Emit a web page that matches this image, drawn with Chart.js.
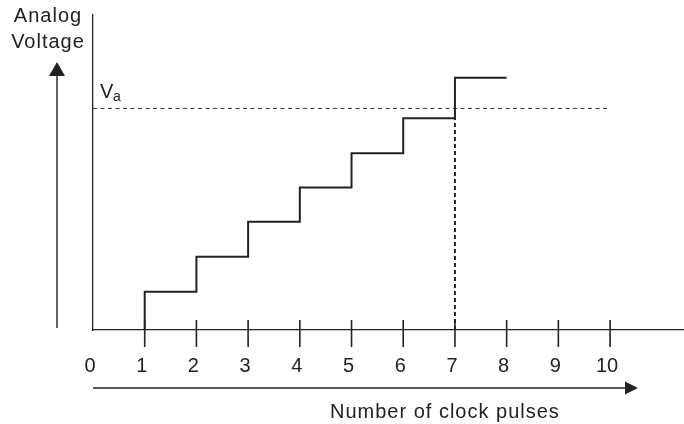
<!DOCTYPE html>
<html>
<head>
<meta charset="utf-8">
<script src="https://cdn.jsdelivr.net/npm/chart.js@4.4.0/dist/chart.umd.min.js"></script>
<style>
  html, body { margin: 0; padding: 0; background: #fff; }
  #wrap { width: 684px; height: 424px; }
</style>
</head>
<body>
<div id="wrap"><canvas id="dacChart" width="684" height="424"></canvas></div>
<script>
// clock pulse at each corner of the staircase
const pulses = [1, 1, 2, 3, 4, 5, 6, 7, 8];
// staircase (DAC output) level, arbitrary voltage units
const levels = [0, 1.09, 2.09, 3.09, 4.07, 5.05, 6.05, 7.21, 7.21];
// analog input voltage Va
const vaLevel = 6.33;
const vaSpan = [0, 10];
// pulse where the staircase passes Va
const crossPulse = 7;
const crossLevel = 6.05;
const tickValues = [0, 1, 2, 3, 4, 5, 6, 7, 8, 9, 10];
const xMax = 11.43;
const yMax = 9;

const ink = '#222';
const fontFamily = '"Liberation Sans", Arial, Helvetica, sans-serif';

// arrows, tick marks and free text around the plot
const decorations = {
    id: 'decorations',
    afterDraw(chart) {
        const { ctx, scales: { x, y } } = chart;
        const axisY = y.getPixelForValue(0);
        ctx.save();
        ctx.strokeStyle = ink;
        ctx.fillStyle = ink;

        // tick marks crossing the pulse axis
        ctx.lineWidth = 1.6;
        tickValues.slice(1).forEach(v => {
            const px = x.getPixelForValue(v);
            ctx.beginPath();
            ctx.moveTo(px, axisY - 10);
            ctx.lineTo(px, axisY + 17);
            ctx.stroke();
        });

        // vertical arrow (analog voltage)
        ctx.lineWidth = 1.4;
        ctx.beginPath();
        ctx.moveTo(57, axisY - 2);
        ctx.lineTo(57, 75);
        ctx.stroke();
        ctx.beginPath();
        ctx.moveTo(49, 76);
        ctx.lineTo(65, 76);
        ctx.lineTo(57, 62);
        ctx.closePath();
        ctx.fill();

        // horizontal arrow (clock pulses)
        const arrowY = 388;
        const tipX = x.getPixelForValue(10.54);
        ctx.beginPath();
        ctx.moveTo(x.getPixelForValue(0), arrowY);
        ctx.lineTo(tipX - 12, arrowY);
        ctx.stroke();
        ctx.beginPath();
        ctx.moveTo(tipX - 13, arrowY - 6.5);
        ctx.lineTo(tipX - 13, arrowY + 6.5);
        ctx.lineTo(tipX, arrowY);
        ctx.closePath();
        ctx.fill();

        // texts
        ctx.font = '20px ' + fontFamily;
        ctx.letterSpacing = '1px';
        ctx.textBaseline = 'alphabetic';
        ctx.textAlign = 'center';
        ctx.fillText('Analog', 48, 22);
        ctx.fillText('Voltage', 48, 48);
        ctx.textAlign = 'left';
        ctx.fillText('Number of clock pulses', 330, 418);

        ctx.letterSpacing = '0px';
        ctx.fillText('V', 100, 98);
        ctx.font = '14px ' + fontFamily;
        ctx.fillText('a', 113, 101);
        ctx.restore();
    }
};

const ctx = document.getElementById('dacChart').getContext('2d');
new Chart(ctx, {
    type: 'line',
    data: {
        datasets: [
            {
                label: 'Staircase',
                data: pulses.map((p, i) => ({ x: p, y: levels[i] })),
                stepped: 'before',
                borderColor: ink,
                borderWidth: 2,
                pointRadius: 0,
                fill: false,
                clip: false
            },
            {
                label: 'Va',
                data: vaSpan.map(p => ({ x: p, y: vaLevel })),
                borderColor: '#333',
                borderWidth: 1,
                borderDash: [4, 3.5],
                pointRadius: 0,
                fill: false
            },
            {
                label: 'Crossing',
                data: [{ x: crossPulse, y: 0 }, { x: crossPulse, y: crossLevel }],
                borderColor: ink,
                borderWidth: 2,
                borderDash: [4, 3],
                pointRadius: 0,
                fill: false
            }
        ]
    },
    options: {
        responsive: false,
        animation: false,
        layout: { padding: { left: 93, top: 15, right: 0, bottom: 0 } },
        plugins: {
            legend: { display: false },
            tooltip: { enabled: false }
        },
        scales: {
            x: {
                type: 'linear',
                min: 0,
                max: xMax,
                grid: { display: false, drawTicks: false },
                border: { display: true, color: ink, width: 1.3 },
                afterBuildTicks: scale => {
                    scale.ticks = tickValues.map(v => ({ value: v }));
                },
                afterFit: scale => { scale.height = 94; },
                ticks: {
                    autoSkip: false,
                    maxRotation: 0,
                    padding: 24,
                    labelOffset: -3,
                    color: ink,
                    font: { family: fontFamily, size: 20 }
                }
            },
            y: {
                min: 0,
                max: yMax,
                grid: { display: false, drawTicks: false },
                border: { display: true, color: ink, width: 1.3 },
                ticks: { display: false },
                afterFit: scale => { scale.width = 0; }
            }
        }
    },
    plugins: [decorations]
});
</script>
</body>
</html>
